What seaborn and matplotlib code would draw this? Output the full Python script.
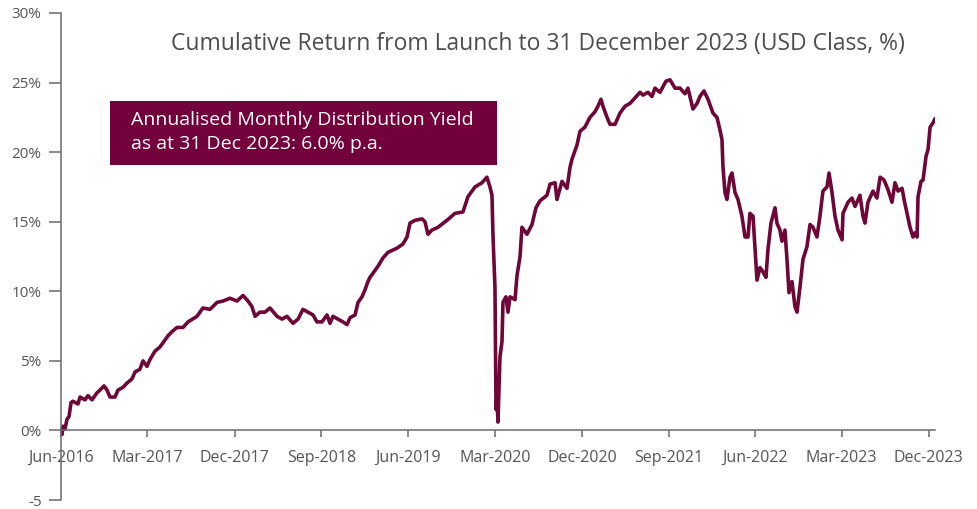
import numpy as np
import pandas as pd
import matplotlib
matplotlib.use("Agg")
import matplotlib.pyplot as plt
import seaborn as sns
from matplotlib.patches import Rectangle

# ---------------- data ----------------
months_since_launch = [
    0, 0.10, 0.21, 0.41, 0.62, 0.83, 1.04, 1.24, 1.76, 1.97, 2.49, 2.80, 3.21, 3.73, 4.04,
    4.46, 4.77, 5.08, 5.60, 5.91, 6.43, 6.84, 7.36, 7.67, 8.19, 8.50, 8.92, 9.23, 9.75,
    10.26, 10.58, 11.09, 11.51, 12.03, 12.65, 13.17, 14.10, 14.72, 15.45, 16.18, 16.80,
    17.52, 18.25, 18.87, 19.39, 19.80, 20.12, 20.63, 21.15, 21.67, 22.40, 22.92, 23.43,
    24.06, 24.58, 25.09, 25.61, 26.13, 26.54, 27.06, 27.58, 27.89, 28.20, 28.72, 29.24,
    29.66, 29.97, 30.49, 30.80, 31.21, 31.52, 31.83, 32.04, 32.87, 33.39, 33.91, 34.84,
    35.46, 35.88, 36.19, 36.71, 37.44, 37.74, 38.05, 38.47, 39.09, 40.02, 40.85, 41.68,
    42.20, 42.93, 43.65, 44.17, 44.48, 44.69, 44.80, 45.00, 45.11, 45.21, 45.31, 45.52,
    45.73, 45.83, 46.14, 46.35, 46.56, 47.08, 47.28, 47.60, 47.80, 48.32, 48.84, 49.25,
    49.67, 50.39, 50.71, 51.23, 51.43, 51.95, 52.47, 52.78, 52.99, 53.50, 53.82, 54.33,
    54.85, 55.37, 55.68, 55.99, 56.20, 56.62, 56.93, 57.45, 57.96, 58.48, 59.00, 59.52,
    60.04, 60.35, 60.87, 61.28, 61.59, 62.11, 62.73, 63.15, 63.67, 64.19, 64.70, 65.01,
    65.53, 65.95, 66.26, 66.67, 67.09, 67.61, 68.02, 68.33, 68.54, 68.64, 68.85, 69.06,
    69.37, 69.58, 69.89, 70.20, 70.61, 70.93, 71.24, 71.44, 71.76, 71.96, 72.17, 72.48,
    72.79, 73.10, 73.31, 73.62, 74.04, 74.24, 74.55, 74.76, 75.07, 75.28, 75.49, 75.80,
    76.11, 76.32, 76.63, 76.94, 77.35, 77.67, 77.98, 78.39, 78.70, 79.01, 79.43, 79.64,
    79.95, 80.26, 80.57, 80.99, 81.09, 81.61, 82.02, 82.34, 82.85, 83.16, 83.37, 83.68,
    84.20, 84.61, 84.93, 85.34, 85.76, 86.17, 86.48, 86.80, 87.21, 87.42, 87.73, 88.04,
    88.35, 88.56, 88.77, 88.87, 89.18, 89.39, 89.70, 89.91, 90.12, 90.42, 90.63,
]
cumulative_return = [
    0.0, -0.3, 0.3, 0.1, 0.8, 1.0, 2.0, 2.1, 1.9, 2.4, 2.2, 2.5, 2.2, 2.7, 2.9,
    3.2, 2.9, 2.4, 2.4, 2.9, 3.1, 3.4, 3.7, 4.2, 4.4, 5.0, 4.6, 5.1, 5.7,
    6.0, 6.3, 6.8, 7.1, 7.4, 7.4, 7.8, 8.2, 8.8, 8.7, 9.2, 9.3,
    9.5, 9.3, 9.7, 9.3, 8.9, 8.2, 8.5, 8.5, 8.8, 8.2, 8.0, 8.2,
    7.7, 8.0, 8.7, 8.5, 8.3, 7.8, 7.8, 8.3, 7.7, 8.2, 8.0, 7.8,
    7.6, 8.1, 8.3, 9.2, 9.6, 10.1, 10.7, 11.0, 11.8, 12.4, 12.8, 13.1,
    13.4, 13.9, 14.9, 15.1, 15.2, 15.0, 14.1, 14.4, 14.6, 15.1, 15.6, 15.7,
    16.8, 17.5, 17.8, 18.2, 17.5, 16.9, 13.9, 10.3, 1.5, 2.5, 0.6, 5.3,
    6.4, 9.2, 9.6, 8.5, 9.6, 9.4, 11.1, 12.5, 14.6, 14.1, 14.8, 16.0,
    16.5, 16.9, 17.7, 17.8, 16.6, 17.9, 17.4, 18.9, 19.5, 20.5, 21.5, 21.8,
    22.5, 22.9, 23.3, 23.8, 23.3, 22.5, 22.0, 22.0, 22.8, 23.3, 23.5, 23.9,
    24.3, 24.1, 24.3, 24.0, 24.6, 24.3, 25.1, 25.2, 24.6, 24.6, 24.2, 24.6,
    23.1, 23.5, 24.0, 24.4, 23.8, 22.8, 22.5, 21.6, 20.9, 19.0, 17.1, 16.6,
    18.2, 18.5, 17.1, 16.6, 15.4, 13.9, 13.9, 15.6, 15.4, 13.2, 10.8, 11.7,
    11.4, 11.0, 13.0, 14.9, 16.0, 14.9, 14.4, 13.6, 14.4, 12.3, 9.9, 10.7,
    8.9, 8.5, 10.3, 12.3, 13.2, 14.8, 14.6, 13.9, 15.4, 17.2, 17.5, 18.5,
    17.1, 15.4, 14.4, 13.7, 15.6, 16.4, 16.7, 16.1, 16.9, 15.4, 14.9, 16.4,
    17.2, 16.7, 18.2, 18.0, 17.3, 16.4, 17.8, 17.2, 17.4, 16.6, 15.6, 14.6,
    13.9, 14.2, 13.9, 16.8, 17.9, 18.0, 19.7, 20.2, 21.8, 22.1, 22.4,
]
x_tick_labels = ["Jun-2016", "Mar-2017", "Dec-2017", "Sep-2018", "Jun-2019", "Mar-2020",
                 "Dec-2020", "Sep-2021", "Jun-2022", "Mar-2023", "Dec-2023"]
y_ticks = [-5, 0, 5, 10, 15, 20, 25, 30]
y_tick_labels = ["-5", "0%", "5%", "10%", "15%", "20%", "25%", "30%"]
title_text = "Cumulative Return from Launch to 31 December 2023 (USD Class, %)"
note_lines = ["Annualised Monthly Distribution Yield", "as at 31 Dec 2023: 6.0% p.a."]

# ---------------- styling ----------------
LINE_COLOR = "#6e0637"
BOX_COLOR = "#72003a"
GREY = "#555555"
AXIS_GREY = "#6a6a6a"

sns.set_style("white")
plt.rcParams["font.family"] = ["Open Sans", "DejaVu Sans"]

launch = pd.Timestamp("2016-06-01")
dates = launch + pd.to_timedelta(np.array(months_since_launch) * 30.436875, unit="D")
df = pd.DataFrame({"date": dates, "ret": cumulative_return})
tick_dates = pd.date_range("2016-06-01", periods=len(x_tick_labels), freq="9MS")

fig = plt.figure(figsize=(9.78, 5.09), dpi=100)
ax = fig.add_axes([61 / 978, 9 / 509, 874 / 978, 487 / 509])

sns.lineplot(data=df, x="date", y="ret", ax=ax, color=LINE_COLOR, linewidth=2.6)

ax.set_xlim(launch, dates[-1])
ax.set_ylim(-5, 30)
ax.set_xticks(tick_dates)
ax.set_xticklabels(x_tick_labels)
ax.set_yticks(y_ticks)
ax.set_yticklabels(y_tick_labels)
ax.set_xlabel("")
ax.set_ylabel("")

for s in ["top", "right"]:
    ax.spines[s].set_visible(False)
ax.spines["bottom"].set_position(("data", 0))
for s in ["left", "bottom"]:
    ax.spines[s].set_color(AXIS_GREY)
    ax.spines[s].set_linewidth(1.1)

ax.tick_params(axis="y", which="major", direction="out", length=9, width=1.1,
               color=AXIS_GREY, labelcolor=GREY, labelsize=11, pad=5, left=True)
ax.tick_params(axis="x", which="major", direction="out", length=5, width=1.1,
               color=AXIS_GREY, labelcolor=GREY, labelsize=11.5, pad=9, bottom=True)
ax.grid(False)

fig.text(538 / 978, 1 - 44 / 509, title_text, ha="center", va="center",
         fontsize=16.5, color="#4d4d4d", fontweight="medium")

fig.add_artist(Rectangle((110 / 978, 1 - 165 / 509), 387 / 978, 64 / 509,
                         transform=fig.transFigure, facecolor=BOX_COLOR,
                         edgecolor="none", zorder=5))
fig.text(131 / 978, 1 - 120 / 509, note_lines[0], ha="left", va="center",
         fontsize=14, color="white", zorder=6)
fig.text(131 / 978, 1 - 144 / 509, note_lines[1], ha="left", va="center",
         fontsize=14, color="white", zorder=6)

fig.savefig("out.png", dpi=100)
